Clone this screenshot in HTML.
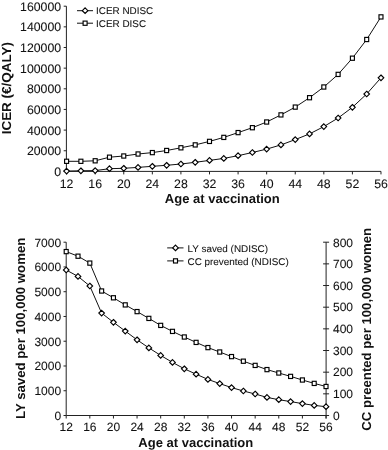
<!DOCTYPE html><html><head><meta charset="utf-8"><style>
html,body{margin:0;padding:0;background:#fff;width:388px;height:450px;overflow:hidden}
svg{display:block;will-change:transform}
text{font-family:"Liberation Sans",sans-serif;fill:#111;text-rendering:geometricPrecision}
.tk,.tk2,.lg{stroke:#111;stroke-width:0.08px}
.tk{font-size:12px}
.tk2{font-size:12.3px}
.lg{font-size:9.8px}
.ti{font-size:13px;font-weight:bold}
.ln{fill:none;stroke:#111;stroke-width:1}
.ax{fill:none;stroke:#222;stroke-width:1}
.mk{fill:#fff;stroke:#000;stroke-width:1.15}
</style></head><body>
<svg width="388" height="450" viewBox="0 0 388 450">
<path class="ax" d="M66.4 6.2V171.4H380.98"/>
<path class="ax" d="M63.7 171.4H66.4"/>
<text class="tk2" x="61.1" y="175.9" text-anchor="end">0</text>
<path class="ax" d="M63.7 150.75H66.4"/>
<text class="tk2" x="61.1" y="155.25" text-anchor="end">20000</text>
<path class="ax" d="M63.7 130.1H66.4"/>
<text class="tk2" x="61.1" y="134.6" text-anchor="end">40000</text>
<path class="ax" d="M63.7 109.45H66.4"/>
<text class="tk2" x="61.1" y="113.95" text-anchor="end">60000</text>
<path class="ax" d="M63.7 88.8H66.4"/>
<text class="tk2" x="61.1" y="93.3" text-anchor="end">80000</text>
<path class="ax" d="M63.7 68.15H66.4"/>
<text class="tk2" x="61.1" y="72.65" text-anchor="end">100000</text>
<path class="ax" d="M63.7 47.5H66.4"/>
<text class="tk2" x="61.1" y="52" text-anchor="end">120000</text>
<path class="ax" d="M63.7 26.85H66.4"/>
<text class="tk2" x="61.1" y="31.35" text-anchor="end">140000</text>
<path class="ax" d="M63.7 6.2H66.4"/>
<text class="tk2" x="61.1" y="10.7" text-anchor="end">160000</text>
<path class="ax" d="M66.6 171.4V174.4"/>
<text class="tk2" x="66.6" y="188" text-anchor="middle">12</text>
<path class="ax" d="M95.18 171.4V174.4"/>
<text class="tk2" x="95.18" y="188" text-anchor="middle">16</text>
<path class="ax" d="M123.76 171.4V174.4"/>
<text class="tk2" x="123.76" y="188" text-anchor="middle">20</text>
<path class="ax" d="M152.34 171.4V174.4"/>
<text class="tk2" x="152.34" y="188" text-anchor="middle">24</text>
<path class="ax" d="M180.92 171.4V174.4"/>
<text class="tk2" x="180.92" y="188" text-anchor="middle">28</text>
<path class="ax" d="M209.5 171.4V174.4"/>
<text class="tk2" x="209.5" y="188" text-anchor="middle">32</text>
<path class="ax" d="M238.08 171.4V174.4"/>
<text class="tk2" x="238.08" y="188" text-anchor="middle">36</text>
<path class="ax" d="M266.66 171.4V174.4"/>
<text class="tk2" x="266.66" y="188" text-anchor="middle">40</text>
<path class="ax" d="M295.24 171.4V174.4"/>
<text class="tk2" x="295.24" y="188" text-anchor="middle">44</text>
<path class="ax" d="M323.82 171.4V174.4"/>
<text class="tk2" x="323.82" y="188" text-anchor="middle">48</text>
<path class="ax" d="M352.4 171.4V174.4"/>
<text class="tk2" x="352.4" y="188" text-anchor="middle">52</text>
<path class="ax" d="M380.98 171.4V174.4"/>
<text class="tk2" x="380.98" y="188" text-anchor="middle">56</text>
<polyline class="ln" points="66.6,161.3 80.89,161.3 95.18,160.8 109.47,157.2 123.76,156 138.05,154 152.34,152.6 166.63,150.5 180.92,147.8 195.21,144.9 209.5,141.4 223.79,137.4 238.08,132.6 252.37,127.7 266.66,122 280.95,114.9 295.24,107.1 309.53,97.7 323.82,87 338.11,74.4 352.4,58.2 366.69,39.5 380.98,16.9"/>
<polyline class="ln" points="66.6,171.1 80.89,170.8 95.18,170.6 109.47,168.7 123.76,168.3 138.05,167.4 152.34,166.3 166.63,165.3 180.92,164 195.21,162.3 209.5,160.4 223.79,158.4 238.08,155.7 252.37,152.5 266.66,149.1 280.95,144.9 295.24,139.6 309.53,133.9 323.82,126.6 338.11,118 352.4,107.3 366.69,94 380.98,77.8"/>
<rect x="64.6" y="159.2" width="4" height="4.2" class="mk"/>
<rect x="78.89" y="159.2" width="4" height="4.2" class="mk"/>
<rect x="93.18" y="158.7" width="4" height="4.2" class="mk"/>
<rect x="107.47" y="155.1" width="4" height="4.2" class="mk"/>
<rect x="121.76" y="153.9" width="4" height="4.2" class="mk"/>
<rect x="136.05" y="151.9" width="4" height="4.2" class="mk"/>
<rect x="150.34" y="150.5" width="4" height="4.2" class="mk"/>
<rect x="164.63" y="148.4" width="4" height="4.2" class="mk"/>
<rect x="178.92" y="145.7" width="4" height="4.2" class="mk"/>
<rect x="193.21" y="142.8" width="4" height="4.2" class="mk"/>
<rect x="207.5" y="139.3" width="4" height="4.2" class="mk"/>
<rect x="221.79" y="135.3" width="4" height="4.2" class="mk"/>
<rect x="236.08" y="130.5" width="4" height="4.2" class="mk"/>
<rect x="250.37" y="125.6" width="4" height="4.2" class="mk"/>
<rect x="264.66" y="119.9" width="4" height="4.2" class="mk"/>
<rect x="278.95" y="112.8" width="4" height="4.2" class="mk"/>
<rect x="293.24" y="105" width="4" height="4.2" class="mk"/>
<rect x="307.53" y="95.6" width="4" height="4.2" class="mk"/>
<rect x="321.82" y="84.9" width="4" height="4.2" class="mk"/>
<rect x="336.11" y="72.3" width="4" height="4.2" class="mk"/>
<rect x="350.4" y="56.1" width="4" height="4.2" class="mk"/>
<rect x="364.69" y="37.4" width="4" height="4.2" class="mk"/>
<rect x="378.98" y="14.8" width="4" height="4.2" class="mk"/>
<path d="M66.6 168.3L69.4 171.1L66.6 173.9L63.8 171.1Z" class="mk"/>
<path d="M80.89 168L83.69 170.8L80.89 173.6L78.09 170.8Z" class="mk"/>
<path d="M95.18 167.8L97.98 170.6L95.18 173.4L92.38 170.6Z" class="mk"/>
<path d="M109.47 165.9L112.27 168.7L109.47 171.5L106.67 168.7Z" class="mk"/>
<path d="M123.76 165.5L126.56 168.3L123.76 171.1L120.96 168.3Z" class="mk"/>
<path d="M138.05 164.6L140.85 167.4L138.05 170.2L135.25 167.4Z" class="mk"/>
<path d="M152.34 163.5L155.14 166.3L152.34 169.1L149.54 166.3Z" class="mk"/>
<path d="M166.63 162.5L169.43 165.3L166.63 168.1L163.83 165.3Z" class="mk"/>
<path d="M180.92 161.2L183.72 164L180.92 166.8L178.12 164Z" class="mk"/>
<path d="M195.21 159.5L198.01 162.3L195.21 165.1L192.41 162.3Z" class="mk"/>
<path d="M209.5 157.6L212.3 160.4L209.5 163.2L206.7 160.4Z" class="mk"/>
<path d="M223.79 155.6L226.59 158.4L223.79 161.2L220.99 158.4Z" class="mk"/>
<path d="M238.08 152.9L240.88 155.7L238.08 158.5L235.28 155.7Z" class="mk"/>
<path d="M252.37 149.7L255.17 152.5L252.37 155.3L249.57 152.5Z" class="mk"/>
<path d="M266.66 146.3L269.46 149.1L266.66 151.9L263.86 149.1Z" class="mk"/>
<path d="M280.95 142.1L283.75 144.9L280.95 147.7L278.15 144.9Z" class="mk"/>
<path d="M295.24 136.8L298.04 139.6L295.24 142.4L292.44 139.6Z" class="mk"/>
<path d="M309.53 131.1L312.33 133.9L309.53 136.7L306.73 133.9Z" class="mk"/>
<path d="M323.82 123.8L326.62 126.6L323.82 129.4L321.02 126.6Z" class="mk"/>
<path d="M338.11 115.2L340.91 118L338.11 120.8L335.31 118Z" class="mk"/>
<path d="M352.4 104.5L355.2 107.3L352.4 110.1L349.6 107.3Z" class="mk"/>
<path d="M366.69 91.2L369.49 94L366.69 96.8L363.89 94Z" class="mk"/>
<path d="M380.98 75L383.78 77.8L380.98 80.6L378.18 77.8Z" class="mk"/>
<path class="ln" d="M77 10.7H93"/><path d="M85.1 7.9L87.9 10.7L85.1 13.5L82.3 10.7Z" class="mk"/>
<text class="lg" transform="translate(96,14) scale(1.01,1)">ICER NDISC</text>
<path class="ln" d="M77 23.2H93"/><rect x="83.1" y="21.1" width="4" height="4.2" class="mk"/>
<text class="lg" transform="translate(96,27) scale(1.01,1)">ICER DISC</text>
<text class="ti" x="222.3" y="202.8" text-anchor="middle">Age at vaccination</text>
<text class="ti" transform="translate(11,88.2) rotate(-90) scale(1.035,1)" text-anchor="middle">ICER (€/QALY)</text>
<path class="ax" d="M66.2 242.2V415.5H326.1"/>
<path class="ax" d="M326.1 242.2V418.5"/>
<path class="ax" d="M63.5 415.5H66.2"/>
<text class="tk" x="61.1" y="419.9" text-anchor="end">0</text>
<path class="ax" d="M63.5 390.74H66.2"/>
<text class="tk" x="61.1" y="395.14" text-anchor="end">1000</text>
<path class="ax" d="M63.5 365.99H66.2"/>
<text class="tk" x="61.1" y="370.39" text-anchor="end">2000</text>
<path class="ax" d="M63.5 341.23H66.2"/>
<text class="tk" x="61.1" y="345.63" text-anchor="end">3000</text>
<path class="ax" d="M63.5 316.47H66.2"/>
<text class="tk" x="61.1" y="320.87" text-anchor="end">4000</text>
<path class="ax" d="M63.5 291.71H66.2"/>
<text class="tk" x="61.1" y="296.11" text-anchor="end">5000</text>
<path class="ax" d="M63.5 266.96H66.2"/>
<text class="tk" x="61.1" y="271.36" text-anchor="end">6000</text>
<path class="ax" d="M63.5 242.2H66.2"/>
<text class="tk" x="61.1" y="246.6" text-anchor="end">7000</text>
<path class="ax" d="M323.1 415.5H329.1"/>
<text class="tk" x="333" y="419.8">0</text>
<path class="ax" d="M323.1 393.84H329.1"/>
<text class="tk" x="333" y="398.14">100</text>
<path class="ax" d="M323.1 372.18H329.1"/>
<text class="tk" x="333" y="376.48">200</text>
<path class="ax" d="M323.1 350.51H329.1"/>
<text class="tk" x="333" y="354.81">300</text>
<path class="ax" d="M323.1 328.85H329.1"/>
<text class="tk" x="333" y="333.15">400</text>
<path class="ax" d="M323.1 307.19H329.1"/>
<text class="tk" x="333" y="311.49">500</text>
<path class="ax" d="M323.1 285.52H329.1"/>
<text class="tk" x="333" y="289.82">600</text>
<path class="ax" d="M323.1 263.86H329.1"/>
<text class="tk" x="333" y="268.16">700</text>
<path class="ax" d="M323.1 242.2H329.1"/>
<text class="tk" x="333" y="246.5">800</text>
<path class="ax" d="M66.2 415.5V418.5"/>
<text class="tk" x="66.2" y="431.2" text-anchor="middle">12</text>
<path class="ax" d="M89.82 415.5V418.5"/>
<text class="tk" x="89.82" y="431.2" text-anchor="middle">16</text>
<path class="ax" d="M113.44 415.5V418.5"/>
<text class="tk" x="113.44" y="431.2" text-anchor="middle">20</text>
<path class="ax" d="M137.06 415.5V418.5"/>
<text class="tk" x="137.06" y="431.2" text-anchor="middle">24</text>
<path class="ax" d="M160.68 415.5V418.5"/>
<text class="tk" x="160.68" y="431.2" text-anchor="middle">28</text>
<path class="ax" d="M184.3 415.5V418.5"/>
<text class="tk" x="184.3" y="431.2" text-anchor="middle">32</text>
<path class="ax" d="M207.92 415.5V418.5"/>
<text class="tk" x="207.92" y="431.2" text-anchor="middle">36</text>
<path class="ax" d="M231.54 415.5V418.5"/>
<text class="tk" x="231.54" y="431.2" text-anchor="middle">40</text>
<path class="ax" d="M255.16 415.5V418.5"/>
<text class="tk" x="255.16" y="431.2" text-anchor="middle">44</text>
<path class="ax" d="M278.78 415.5V418.5"/>
<text class="tk" x="278.78" y="431.2" text-anchor="middle">48</text>
<path class="ax" d="M302.4 415.5V418.5"/>
<text class="tk" x="302.4" y="431.2" text-anchor="middle">52</text>
<path class="ax" d="M326.02 415.5V418.5"/>
<text class="tk" x="326.02" y="431.2" text-anchor="middle">56</text>
<polyline class="ln" points="66.2,251.6 78.01,256.2 89.82,263.1 101.63,291 113.44,297.8 125.25,304.9 137.06,311.6 148.87,318.4 160.68,325.4 172.49,331.4 184.3,337 196.11,342.4 207.92,347.6 219.73,352 231.54,356.6 243.35,361.2 255.16,365.4 266.97,369.6 278.78,373 290.59,376.4 302.4,380 314.21,383.4 326.02,386.5"/>
<polyline class="ln" points="66.2,270 78.01,276.4 89.82,286 101.63,313.1 113.44,322.3 125.25,331.1 137.06,339.8 148.87,347.9 160.68,355.4 172.49,362.4 184.3,368.8 196.11,374.2 207.92,379.4 219.73,383.6 231.54,387.6 243.35,391 255.16,394 266.97,397.4 278.78,399.7 290.59,401.6 302.4,403.6 314.21,405.4 326.02,406.7"/>
<rect x="64.2" y="249.5" width="4" height="4.2" class="mk"/>
<rect x="76.01" y="254.1" width="4" height="4.2" class="mk"/>
<rect x="87.82" y="261" width="4" height="4.2" class="mk"/>
<rect x="99.63" y="288.9" width="4" height="4.2" class="mk"/>
<rect x="111.44" y="295.7" width="4" height="4.2" class="mk"/>
<rect x="123.25" y="302.8" width="4" height="4.2" class="mk"/>
<rect x="135.06" y="309.5" width="4" height="4.2" class="mk"/>
<rect x="146.87" y="316.3" width="4" height="4.2" class="mk"/>
<rect x="158.68" y="323.3" width="4" height="4.2" class="mk"/>
<rect x="170.49" y="329.3" width="4" height="4.2" class="mk"/>
<rect x="182.3" y="334.9" width="4" height="4.2" class="mk"/>
<rect x="194.11" y="340.3" width="4" height="4.2" class="mk"/>
<rect x="205.92" y="345.5" width="4" height="4.2" class="mk"/>
<rect x="217.73" y="349.9" width="4" height="4.2" class="mk"/>
<rect x="229.54" y="354.5" width="4" height="4.2" class="mk"/>
<rect x="241.35" y="359.1" width="4" height="4.2" class="mk"/>
<rect x="253.16" y="363.3" width="4" height="4.2" class="mk"/>
<rect x="264.97" y="367.5" width="4" height="4.2" class="mk"/>
<rect x="276.78" y="370.9" width="4" height="4.2" class="mk"/>
<rect x="288.59" y="374.3" width="4" height="4.2" class="mk"/>
<rect x="300.4" y="377.9" width="4" height="4.2" class="mk"/>
<rect x="312.21" y="381.3" width="4" height="4.2" class="mk"/>
<rect x="324.02" y="384.4" width="4" height="4.2" class="mk"/>
<path d="M66.2 267.2L69 270L66.2 272.8L63.4 270Z" class="mk"/>
<path d="M78.01 273.6L80.81 276.4L78.01 279.2L75.21 276.4Z" class="mk"/>
<path d="M89.82 283.2L92.62 286L89.82 288.8L87.02 286Z" class="mk"/>
<path d="M101.63 310.3L104.43 313.1L101.63 315.9L98.83 313.1Z" class="mk"/>
<path d="M113.44 319.5L116.24 322.3L113.44 325.1L110.64 322.3Z" class="mk"/>
<path d="M125.25 328.3L128.05 331.1L125.25 333.9L122.45 331.1Z" class="mk"/>
<path d="M137.06 337L139.86 339.8L137.06 342.6L134.26 339.8Z" class="mk"/>
<path d="M148.87 345.1L151.67 347.9L148.87 350.7L146.07 347.9Z" class="mk"/>
<path d="M160.68 352.6L163.48 355.4L160.68 358.2L157.88 355.4Z" class="mk"/>
<path d="M172.49 359.6L175.29 362.4L172.49 365.2L169.69 362.4Z" class="mk"/>
<path d="M184.3 366L187.1 368.8L184.3 371.6L181.5 368.8Z" class="mk"/>
<path d="M196.11 371.4L198.91 374.2L196.11 377L193.31 374.2Z" class="mk"/>
<path d="M207.92 376.6L210.72 379.4L207.92 382.2L205.12 379.4Z" class="mk"/>
<path d="M219.73 380.8L222.53 383.6L219.73 386.4L216.93 383.6Z" class="mk"/>
<path d="M231.54 384.8L234.34 387.6L231.54 390.4L228.74 387.6Z" class="mk"/>
<path d="M243.35 388.2L246.15 391L243.35 393.8L240.55 391Z" class="mk"/>
<path d="M255.16 391.2L257.96 394L255.16 396.8L252.36 394Z" class="mk"/>
<path d="M266.97 394.6L269.77 397.4L266.97 400.2L264.17 397.4Z" class="mk"/>
<path d="M278.78 396.9L281.58 399.7L278.78 402.5L275.98 399.7Z" class="mk"/>
<path d="M290.59 398.8L293.39 401.6L290.59 404.4L287.79 401.6Z" class="mk"/>
<path d="M302.4 400.8L305.2 403.6L302.4 406.4L299.6 403.6Z" class="mk"/>
<path d="M314.21 402.6L317.01 405.4L314.21 408.2L311.41 405.4Z" class="mk"/>
<path d="M326.02 403.9L328.82 406.7L326.02 409.5L323.22 406.7Z" class="mk"/>
<path class="ln" d="M167.2 247.9H183.5"/><path d="M175.5 245.1L178.3 247.9L175.5 250.7L172.7 247.9Z" class="mk"/>
<text class="lg" transform="translate(187.5,251.8) scale(1.01,1)">LY saved (NDISC)</text>
<path class="ln" d="M167.2 260.9H183.5"/><rect x="173.5" y="258.8" width="4" height="4.2" class="mk"/>
<text class="lg" transform="translate(187.5,264.8) scale(1.01,1)">CC prevented (NDISC)</text>
<text class="ti" x="195.8" y="446.7" text-anchor="middle">Age at vaccination</text>
<text class="ti" transform="translate(24.7,328.3) rotate(-90) scale(1.015,1)" text-anchor="middle">LY saved per 100,000 women</text>
<text class="ti" transform="translate(370.6,329.3) rotate(-90) scale(1.013,1)" text-anchor="middle">CC preented per 100,000 women</text>
</svg></body></html>
